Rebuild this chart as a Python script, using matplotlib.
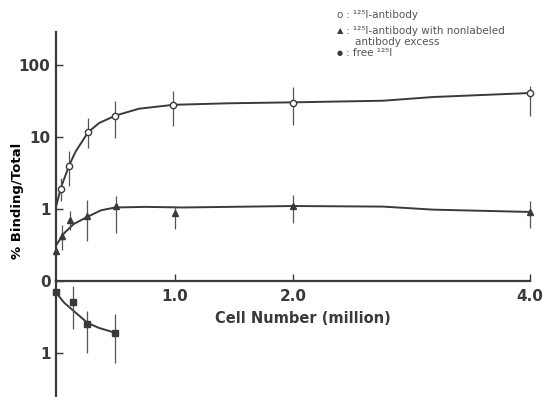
import numpy as np
import matplotlib
matplotlib.use('Agg')
import matplotlib.pyplot as plt

# measured points (cell number in million)
ab_x = [0.04, 0.11, 0.27, 0.50, 0.99, 2.0, 4.0]
ab_y = [1.9, 4.0, 11.6, 19.8, 28.0, 29.6, 40.8]
ab_lo = [1.28, 2.07, 7.0, 9.7, 14.1, 14.8, 19.4]
ab_hi = [2.7, 6.3, 18.4, 31.3, 43.2, 49.0, 50.6]

ex_x = [0.0, 0.05, 0.12, 0.26, 0.51, 1.0, 2.0, 4.0]
ex_y = [0.26, 0.42, 0.71, 0.79, 1.09, 0.88, 1.09, 0.91]
ex_lo = [0.26, 0.27, 0.515, 0.36, 0.46, 0.52, 0.64, 0.54]
ex_hi = [0.26, 0.605, 0.93, 1.35, 1.5, 1.09, 1.58, 1.28]

fr_x = [0.0, 0.145, 0.265, 0.50]
fr_y = [0.15, 0.29, 0.60, 0.72]
fr_lo = [0.15, 0.07, 0.42, 0.46]
fr_hi = [0.15, 0.67, 1.0, 1.14]

# hand drawn curves
ab_cx = [0.005, 0.04, 0.11, 0.166, 0.27, 0.363, 0.5, 0.70, 0.99, 1.46, 2.0, 2.76, 3.18, 4.0]
ab_cy = [1.15, 1.95, 4.0, 6.3, 11.6, 15.6, 19.8, 24.7, 28.0, 29.4, 30.3, 31.9, 35.9, 40.8]
ex_cx = [0.005, 0.068, 0.15, 0.26, 0.38, 0.5, 0.76, 1.07, 2.0, 2.76, 3.18, 4.0]
ex_cy = [0.32, 0.46, 0.62, 0.77, 0.96, 1.05, 1.07, 1.05, 1.1, 1.08, 0.98, 0.91]
fr_cx = [0.0, 0.068, 0.152, 0.265, 0.36, 0.5]
fr_cy = [0.16, 0.30, 0.42, 0.58, 0.65, 0.72]

ink = '#3a3a3a'
W, H = 555, 397
fig = plt.figure(figsize=(W / 100, H / 100), dpi=100)

x0, x1, ytop, ybase = 56, 530, 32, 281
ax = fig.add_axes([x0 / W, (H - ybase) / H, (x1 - x0) / W, (ybase - ytop) / H])
ax2 = fig.add_axes([x0 / W, 0, (x1 - x0) / W, (H - ybase) / H])

px_dec = 72.0
ax.set_yscale('log')
ax.set_ylim(0.1, 10 ** (-1 + (ybase - ytop) / px_dec))
ax.set_xlim(0, 4.0)
ax2.set_xlim(0, 4.0)
ax2.set_ylim((H - ybase) / px_dec, 0)

for a in (ax, ax2):
    for s in ('top', 'right'):
        a.spines[s].set_visible(False)
    a.spines['left'].set_color(ink)
    a.spines['left'].set_linewidth(1.6)
    a.patch.set_alpha(0)
ax.spines['bottom'].set_color(ink)
ax.spines['bottom'].set_linewidth(1.6)
ax2.spines['bottom'].set_visible(False)

ax.set_yticks([0.1, 1, 10, 100])
ax.set_yticklabels(['0', '1', '10', '100'])
ax.minorticks_off()
ax.set_xticks([1.0, 2.0, 4.0])
ax.set_xticklabels(['1.0', '2.0', '4.0'])
ax.tick_params(direction='in', length=5, width=1, colors=ink, labelsize=11, pad=4)
ax.tick_params(axis='x', pad=6)
ax2.set_xticks([])
ax2.set_yticks([1])
ax2.set_yticklabels(['1'])
ax2.tick_params(direction='in', length=5, width=1, colors=ink, labelsize=11, pad=4)
for lab in ax.get_xticklabels() + ax.get_yticklabels() + ax2.get_yticklabels():
    lab.set_fontweight('bold')

ax.set_xlabel('Cell Number (million)', fontsize=10.5, fontweight='bold', color=ink)
ax.xaxis.set_label_coords(0.52, -0.12)
fig.text(18 / W, 1 - 201 / H, '% Binding/Total', rotation=90, ha='center', va='center',
         fontsize=9.5, fontweight='bold', color='black')

ekw = dict(fmt='none', ecolor='#555555', elinewidth=0.9, capsize=0)


def bars(a, x, y, lo, hi):
    c = a.errorbar(x, y, yerr=[np.array(y) - lo, np.array(hi) - np.array(y)], **ekw)
    for col in c.lines[2]:
        col.set_clip_on(False)


ax.plot(ab_cx, ab_cy, color=ink, lw=1.4, clip_on=False)
bars(ax, ab_x, ab_y, ab_lo, ab_hi)
ax.plot(ab_x, ab_y, 'o', ms=4.5, mfc='white', mec=ink, mew=1.0, clip_on=False)

ax.plot(ex_cx, ex_cy, color=ink, lw=1.4, clip_on=False)
bars(ax, ex_x, ex_y, ex_lo, ex_hi)
ax.plot(ex_x, ex_y, '^', ms=5, color=ink, clip_on=False)

ax2.plot(fr_cx, fr_cy, color=ink, lw=1.4, clip_on=False)
bars(ax2, fr_x, fr_y, fr_lo, fr_hi)
ax2.plot(fr_x, fr_y, 's', ms=4, color=ink, clip_on=False)

# legend as text lines
lc = '#555555'
fs = 7.5
iso = u'\u00b9\u00b2\u2075I'
fig.text(340 / W, 1 - 15 / H, 'o', fontsize=fs, color=lc, ha='center', va='center')
fig.text(346 / W, 1 - 15 / H, ': ' + iso + '-antibody', fontsize=fs, color=lc, va='center')
fig.text(340 / W, 1 - 31 / H, u'\u25b2', fontsize=6, color=ink, ha='center', va='center')
fig.text(346 / W, 1 - 31 / H, ': ' + iso + '-antibody with nonlabeled', fontsize=fs, color=lc, va='center')
fig.text(355 / W, 1 - 42 / H, 'antibody excess', fontsize=fs, color=lc, va='center')
fig.text(340 / W, 1 - 53 / H, u'\u25cf', fontsize=5, color=ink, ha='center', va='center')
fig.text(346 / W, 1 - 53 / H, ': free ' + iso, fontsize=fs, color=lc, va='center')

fig.savefig('out.png', dpi=100)
